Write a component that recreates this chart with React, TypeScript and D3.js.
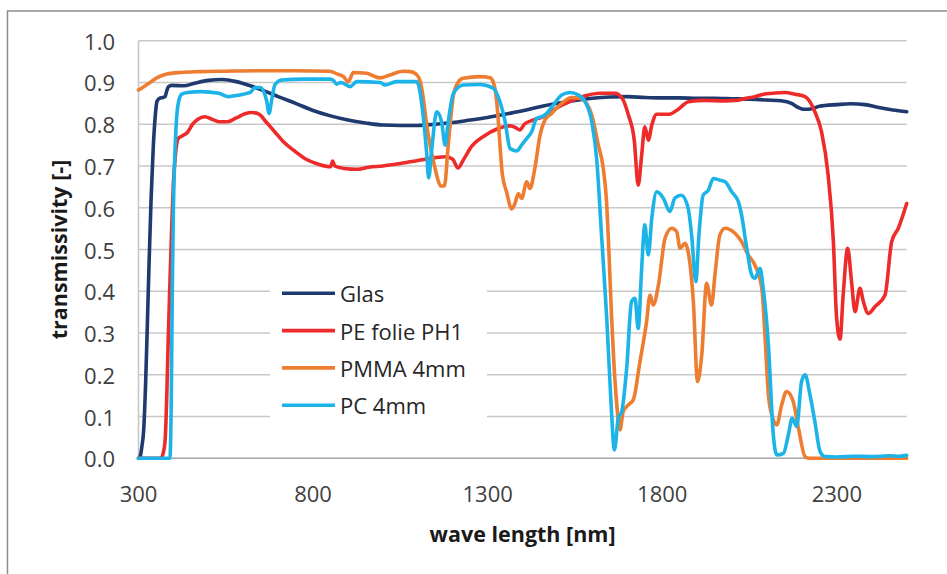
import * as d3 from 'd3';

// transmission spectra, [wave length nm, transmissivity]
const glas: [number, number][] = [
  [300, 0], [305, 0.005], [310, 0.03], [315, 0.07], [320, 0.17], [325, 0.31], [330, 0.46],
  [336, 0.62], [342, 0.74], [348, 0.82], [353, 0.855], [360, 0.862], [370, 0.864], [376, 0.866],
  [381, 0.88], [386, 0.89], [395, 0.893], [430, 0.892], [460, 0.898], [500, 0.905], [540, 0.907],
  [580, 0.902], [620, 0.892], [660, 0.88], [700, 0.866], [750, 0.85], [800, 0.833], [850, 0.82],
  [900, 0.81], [950, 0.803], [1000, 0.798], [1050, 0.797], [1100, 0.797], [1150, 0.8],
  [1200, 0.804], [1250, 0.81], [1300, 0.816], [1350, 0.824], [1400, 0.832], [1450, 0.842],
  [1500, 0.85], [1550, 0.857], [1600, 0.862], [1650, 0.865], [1700, 0.866], [1750, 0.864],
  [1800, 0.863], [1850, 0.863], [1900, 0.862], [1950, 0.862], [2000, 0.861], [2050, 0.86],
  [2100, 0.858], [2140, 0.856], [2170, 0.85], [2190, 0.84], [2205, 0.836], [2220, 0.836],
  [2250, 0.843], [2300, 0.847], [2340, 0.849], [2380, 0.847], [2420, 0.84], [2460, 0.834],
  [2500, 0.83],
];

const peFolie: [number, number][] = [
  [300, 0], [364, 0], [370, 0.01], [376, 0.04], [381, 0.15], [385, 0.28], [390, 0.42],
  [395, 0.55], [400, 0.66], [405, 0.72], [414, 0.766], [425, 0.772], [440, 0.78], [455, 0.8],
  [470, 0.812], [490, 0.818], [510, 0.812], [530, 0.806], [555, 0.806], [580, 0.815],
  [605, 0.825], [625, 0.828], [645, 0.824], [665, 0.806], [690, 0.782], [715, 0.758],
  [745, 0.737], [780, 0.716], [815, 0.704], [850, 0.698], [856, 0.712], [862, 0.7], [890, 0.694],
  [925, 0.692], [960, 0.697], [1000, 0.7], [1050, 0.706], [1100, 0.713], [1150, 0.72],
  [1180, 0.722], [1200, 0.716], [1215, 0.695], [1230, 0.714], [1255, 0.748], [1290, 0.772],
  [1325, 0.788], [1365, 0.796], [1380, 0.792], [1392, 0.786], [1405, 0.8], [1430, 0.81],
  [1460, 0.818], [1500, 0.84], [1540, 0.856], [1580, 0.868], [1620, 0.874], [1665, 0.874],
  [1685, 0.862], [1703, 0.822], [1720, 0.76], [1731, 0.654], [1741, 0.726], [1750, 0.794],
  [1760, 0.762], [1770, 0.798], [1784, 0.824], [1820, 0.824], [1846, 0.836], [1875, 0.854],
  [1920, 0.857], [1980, 0.856], [2010, 0.857], [2040, 0.862], [2065, 0.866], [2090, 0.872],
  [2115, 0.874], [2150, 0.876], [2180, 0.872], [2209, 0.866], [2237, 0.83], [2256, 0.782],
  [2275, 0.678], [2290, 0.519], [2299, 0.34], [2309, 0.285], [2318, 0.39], [2331, 0.503],
  [2342, 0.423], [2352, 0.351], [2366, 0.407], [2376, 0.375], [2390, 0.347], [2409, 0.363],
  [2438, 0.391], [2457, 0.519], [2476, 0.551], [2500, 0.61],
];

const pmma: [number, number][] = [
  [300, 0.882], [315, 0.89], [333, 0.9], [355, 0.912], [381, 0.92], [420, 0.924], [476, 0.926],
  [550, 0.927], [650, 0.928], [750, 0.928], [848, 0.927], [870, 0.92], [887, 0.914],
  [901, 0.902], [915, 0.924], [953, 0.922], [992, 0.911], [1020, 0.918], [1058, 0.927],
  [1080, 0.926], [1095, 0.92], [1106, 0.905], [1116, 0.86], [1125, 0.8], [1135, 0.75],
  [1145, 0.71], [1154, 0.678], [1165, 0.652], [1176, 0.652], [1187, 0.75], [1202, 0.87],
  [1215, 0.9], [1230, 0.91], [1278, 0.914], [1307, 0.911], [1318, 0.895], [1325, 0.86],
  [1330, 0.814], [1336, 0.74], [1342, 0.68], [1354, 0.638], [1369, 0.597], [1378, 0.61],
  [1388, 0.634], [1397, 0.622], [1412, 0.662], [1421, 0.646], [1435, 0.694], [1450, 0.774],
  [1464, 0.81], [1483, 0.826], [1512, 0.85], [1540, 0.864], [1564, 0.862], [1583, 0.85],
  [1598, 0.822], [1617, 0.75], [1630, 0.7], [1640, 0.62], [1648, 0.48], [1655, 0.335],
  [1662, 0.22], [1669, 0.136], [1679, 0.068], [1688, 0.112], [1703, 0.128], [1717, 0.14],
  [1736, 0.231], [1755, 0.327], [1765, 0.391], [1774, 0.367], [1789, 0.415], [1808, 0.527],
  [1827, 0.551], [1841, 0.543], [1851, 0.503], [1865, 0.515], [1874, 0.495], [1889, 0.375],
  [1901, 0.184], [1913, 0.247], [1927, 0.419], [1941, 0.367], [1951, 0.44], [1965, 0.535],
  [1980, 0.551], [2008, 0.539], [2027, 0.519], [2046, 0.487], [2065, 0.463], [2085, 0.407],
  [2094, 0.295], [2104, 0.152], [2115, 0.1], [2128, 0.08], [2142, 0.128], [2156, 0.16],
  [2175, 0.136], [2190, 0.072], [2209, 0.004], [2220, 0], [2500, 0],
];

const pc4mm: [number, number][] = [
  [300, 0], [390, 0], [394, 0.15], [397, 0.42], [400, 0.6], [403, 0.7], [408, 0.8],
  [415, 0.855], [424, 0.872], [440, 0.876], [480, 0.878], [530, 0.874], [557, 0.866],
  [575, 0.868], [600, 0.872], [620, 0.876], [634, 0.888], [650, 0.888], [660, 0.875],
  [667, 0.856], [674, 0.826], [681, 0.856], [691, 0.895], [710, 0.906], [770, 0.908],
  [848, 0.908], [858, 0.905], [867, 0.896], [880, 0.9], [906, 0.89], [925, 0.902], [992, 0.9],
  [1006, 0.894], [1039, 0.902], [1097, 0.902], [1106, 0.878], [1116, 0.814], [1125, 0.734],
  [1131, 0.672], [1140, 0.742], [1154, 0.83], [1168, 0.806], [1178, 0.75], [1187, 0.806],
  [1202, 0.874], [1230, 0.894], [1278, 0.895], [1316, 0.886], [1335, 0.854], [1350, 0.806],
  [1364, 0.742], [1383, 0.736], [1397, 0.75], [1412, 0.766], [1426, 0.782], [1440, 0.814],
  [1455, 0.818], [1469, 0.826], [1488, 0.846], [1512, 0.87], [1536, 0.876], [1560, 0.87],
  [1579, 0.854], [1598, 0.806], [1612, 0.718], [1626, 0.535], [1641, 0.335], [1653, 0.136],
  [1663, 0.02], [1674, 0.096], [1684, 0.112], [1698, 0.215], [1712, 0.375], [1722, 0.383],
  [1731, 0.311], [1741, 0.455], [1750, 0.559], [1760, 0.487], [1770, 0.575], [1784, 0.638],
  [1803, 0.623], [1822, 0.591], [1836, 0.623], [1855, 0.63], [1874, 0.599], [1884, 0.535],
  [1896, 0.423], [1905, 0.535], [1917, 0.63], [1932, 0.642], [1946, 0.67], [1965, 0.666],
  [1980, 0.662], [1999, 0.638], [2018, 0.614], [2027, 0.583], [2042, 0.503], [2056, 0.439],
  [2065, 0.431], [2080, 0.455], [2089, 0.407], [2104, 0.271], [2118, 0.056], [2128, 0.008],
  [2147, 0.012], [2161, 0.056], [2172, 0.096], [2185, 0.076], [2199, 0.184], [2209, 0.2],
  [2223, 0.152], [2237, 0.088], [2252, 0.016], [2266, 0.004], [2300, 0.003], [2350, 0.005],
  [2400, 0.004], [2450, 0.006], [2480, 0.005], [2500, 0.007],
];

const seriesNames = ['Glas', 'PE folie PH1', 'PMMA 4mm', 'PC 4mm'];
const seriesColors = ['#1f3a6e', '#ee2b2b', '#ed7d31', '#1cb4e8'];
const xTicks = [300, 800, 1300, 1800, 2300];
const yTicks = [0, 0.1, 0.2, 0.3, 0.4, 0.5, 0.6, 0.7, 0.8, 0.9, 1.0];

const font = '"Open Sans", Lato, sans-serif';

export default function App() {
  const width = 947;
  const height = 574;
  const plot = { left: 138.5, right: 906.7, top: 40.7, bottom: 458.3 };

  const x = d3.scaleLinear().domain([300, 2500]).range([plot.left, plot.right]);
  const y = d3.scaleLinear().domain([0, 1]).range([plot.bottom, plot.top]);

  const line = d3
    .line<[number, number]>()
    .x((d) => x(d[0]))
    .y((d) => y(d[1]))
    .curve(d3.curveMonotoneX);

  const data = [glas, peFolie, pmma, pc4mm];

  const legend = { x: 270, y: 273, w: 217, h: 164 };

  return (
    <svg
      width={width}
      height={height}
      style={{ position: 'absolute', left: 0, top: 0, background: '#fff' }}
      fontFamily={font}
    >
      <rect x={7.5} y={11} width={1000} height={1000} fill="#fff" stroke="#8c8c8c" strokeWidth={1.5} />

      {yTicks.map((t) => (
        <line
          key={t}
          x1={plot.left}
          x2={plot.right}
          y1={y(t)}
          y2={y(t)}
          stroke={t === 0 ? '#a6a6a6' : '#c8c8c8'}
          strokeWidth={1.6}
        />
      ))}
      <line x1={plot.left} x2={plot.left} y1={plot.top} y2={plot.bottom} stroke="#c8c8c8" strokeWidth={1.6} />

      {data.map((d, i) => (
        <path
          key={seriesNames[i]}
          d={line(d) ?? ''}
          fill="none"
          stroke={seriesColors[i]}
          strokeWidth={3.6}
          strokeLinejoin="round"
          strokeLinecap="round"
        />
      ))}

      {yTicks.map((t) => (
        <text
          key={t}
          x={115}
          y={y(t)}
          textAnchor="end"
          dominantBaseline="central"
          fontSize={22}
          fill="#404040"
        >
          {t.toFixed(1)}
        </text>
      ))}
      {xTicks.map((t) => (
        <text
          key={t}
          x={x(t)}
          y={493}
          textAnchor="middle"
          dominantBaseline="central"
          fontSize={22}
          fill="#404040"
        >
          {t}
        </text>
      ))}

      <text
        transform={`translate(58,${(plot.top + plot.bottom) / 2}) rotate(-90)`}
        textAnchor="middle"
        dominantBaseline="central"
        fontSize={21.5}
        fontWeight="bold"
        fill="#1a1a1a"
      >
        transmissivity [-]
      </text>
      <text
        x={(plot.left + plot.right) / 2}
        y={533}
        textAnchor="middle"
        dominantBaseline="central"
        fontSize={21.5}
        fontWeight="bold"
        fill="#1a1a1a"
      >
        wave length [nm]
      </text>

      <rect x={legend.x} y={legend.y} width={legend.w} height={legend.h} fill="#fff" />
      {seriesNames.map((name, i) => {
        const ly = 293.3 + i * 37.3;
        return (
          <g key={name}>
            <line x1={282} x2={335} y1={ly} y2={ly} stroke={seriesColors[i]} strokeWidth={3.6} />
            <text x={340} y={ly} dominantBaseline="central" fontSize={22} fill="#262626">
              {name}
            </text>
          </g>
        );
      })}
    </svg>
  );
}
